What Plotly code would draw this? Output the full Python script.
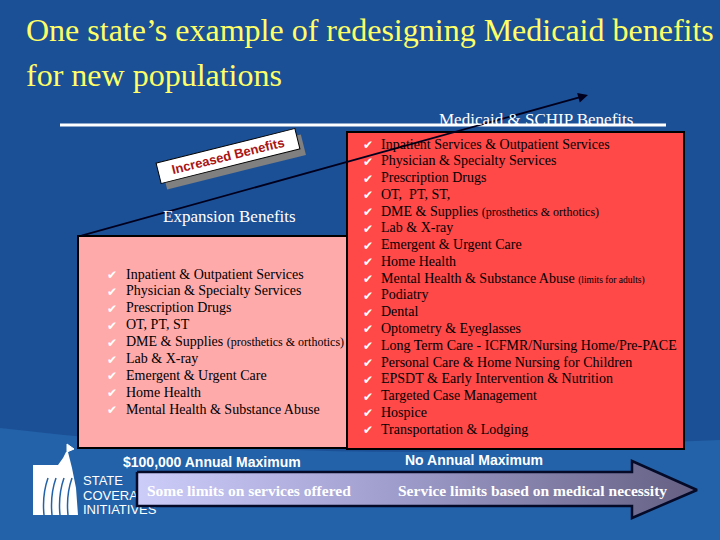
import plotly.graph_objects as go

# ---------------- data ----------------
title_lines = ["One state\u2019s example of redesigning Medicaid benefits", "for new populations"]

expansion_items = ["Inpatient & Outpatient Services", "Physician & Specialty Services",
                   "Prescription Drugs", "OT, PT, ST", "DME & Supplies", "Lab & X-ray",
                   "Emergent & Urgent Care", "Home Health", "Mental Health & Substance Abuse"]
expansion_notes = ["", "", "", "", "(prosthetics & orthotics)", "", "", "", ""]

medicaid_items = ["Inpatient Services & Outpatient Services", "Physician & Specialty Services",
                  "Prescription Drugs", "OT,  PT, ST,", "DME & Supplies", "Lab & X-ray",
                  "Emergent & Urgent Care", "Home Health", "Mental Health & Substance Abuse",
                  "Podiatry", "Dental", "Optometry & Eyeglasses",
                  "Long Term Care - ICFMR/Nursing Home/Pre-PACE",
                  "Personal Care & Home Nursing for Children",
                  "EPSDT & Early Intervention & Nutrition", "Targeted Case Management",
                  "Hospice", "Transportation & Lodging"]
medicaid_notes = ["", "", "", "", "(prosthetics & orthotics)", "", "", "",
                  "(limits for adults)", "", "", "", "", "", "", "", "", ""]

left_header = "Expansion Benefits"
right_header = "Medicaid & SCHIP Benefits"
slope_label = "Increased Benefits"
cap_labels = ["$100,000 Annual Maximum", "No Annual Maximum"]
arrow_labels = ["Some limits on services offered", "Service limits based on medical necessity"]
logo_lines = ["STATE", "COVERAGE", "INITIATIVES"]

# ---------------- styles ----------------
BG = "rgb(28,80,150)"
BG2 = "rgb(35,98,168)"
YELLOW = "rgb(255,255,102)"
PINK = "rgb(255,170,170)"
RED = "rgb(255,72,72)"
SERIF = "Liberation Serif"
SANS = "Liberation Sans"
NOTE_SIZES = {"(prosthetics & orthotics)": 12, "(limits for adults)": 9.5}

fig = go.Figure()

# logo text (drawn before the arrow so the arrow covers part of it)
fig.add_trace(go.Scatter(
    x=[83, 83, 83], y=[482, 497, 511], mode="text", text=logo_lines,
    textposition="middle right", hoverinfo="skip", showlegend=False,
    textfont=dict(family=SANS, size=13, color="white")))

# big gradient arrow
ax_x = [137, 632, 632, 697, 632, 632, 137, 137]
ax_y = [472, 472, 461, 490, 518, 506, 506, 472]
fig.add_trace(go.Scatter(
    x=ax_x, y=ax_y, mode="lines", fill="toself",
    line=dict(color="rgb(5,10,40)", width=2.5),
    fillgradient=dict(type="horizontal",
                      colorscale=[[0, "rgb(205,205,250)"], [0.45, "rgb(160,158,205)"],
                                  [1, "rgb(100,95,130)"]]),
    hoverinfo="skip", showlegend=False))

shapes = []
shapes.append(dict(type="path", layer="below",
                   path="M0,428 Q200,452 420,452 L720,440 L720,540 L0,540 Z",
                   fillcolor=BG2, line=dict(width=0)))
shapes.append(dict(type="line", x0=60, x1=666, y0=125, y1=125,
                   line=dict(color="white", width=3), layer="below"))
shapes.append(dict(type="rect", x0=78, x1=348, y0=236, y1=448,
                   fillcolor=PINK, line=dict(color="black", width=2), layer="below"))
shapes.append(dict(type="rect", x0=347, x1=684, y0=132, y1=449,
                   fillcolor=RED, line=dict(color="black", width=2), layer="below"))
# logo building
shapes.append(dict(type="path",
                   path="M33,465 L58,465 L63,458 L66,452 L68,452 L72,468 L76,488 L78,515 L33,515 Z",
                   fillcolor="white", line=dict(width=0)))
for cx in [44, 52, 60, 68]:
    shapes.append(dict(type="path", path=f"M{cx},515 Q{cx-2},495 {cx+4},478",
                       line=dict(color=BG2, width=1.5)))
shapes.append(dict(type="path", path="M67,452 L67,444 L74,449 Z",
                   fillcolor="white", line=dict(color="white", width=1)))

annotations = []
# title
for i, t in enumerate(title_lines):
    annotations.append(dict(x=24, y=30 + i * 45, text=t, showarrow=False,
                            xanchor="left", yanchor="middle",
                            font=dict(family=SERIF, size=32, color=YELLOW)))

# diagonal arrow
annotations.append(dict(x=588, y=95, ax=80, ay=236, xref="x", yref="y", axref="x", ayref="y",
                        text="", showarrow=True, arrowhead=2, arrowsize=1.1, arrowwidth=1.8,
                        arrowcolor="rgb(0,0,30)"))

# headers
annotations.append(dict(x=229, y=216, text=left_header, showarrow=False,
                        font=dict(family=SERIF, size=17, color="white")))
annotations.append(dict(x=536, y=119, text=right_header, showarrow=False,
                        font=dict(family=SERIF, size=17, color="white")))

# Increased Benefits label with shadow
annotations.append(dict(x=234, y=162, text=slope_label, showarrow=False, textangle=-14,
                        bgcolor="rgb(128,128,128)", font=dict(family=SANS, size=13, color="rgb(128,128,128)"),
                        width=140, height=18))
annotations.append(dict(x=228, y=156, text="<b>" + slope_label + "</b>", showarrow=False, textangle=-14,
                        bgcolor="white", bordercolor="black", borderwidth=1,
                        font=dict(family=SANS, size=13, color="rgb(170,20,20)"),
                        width=140, height=18))


def add_list(items, notes, x_check, x_text, y0, step):
    for i, (it, nt) in enumerate(zip(items, notes)):
        y = y0 + i * step
        annotations.append(dict(x=x_check, y=y + 1, text="\u2714", showarrow=False,
                                font=dict(family="DejaVu Sans", size=12, color="white")))
        txt = it
        if nt:
            txt += f' <span style="font-size:{NOTE_SIZES[nt]}px">{nt}</span>'
        annotations.append(dict(x=x_text, y=y, text=txt, showarrow=False,
                                xanchor="left", yanchor="middle",
                                font=dict(family=SERIF, size=14, color="black")))


add_list(expansion_items, expansion_notes, 112, 124, 274, 16.9)
add_list(medicaid_items, medicaid_notes, 368, 379, 144, 16.77)

# cap labels
annotations.append(dict(x=121, y=462, text="<b>" + cap_labels[0] + "</b>", showarrow=False,
                        xanchor="left", font=dict(family=SANS, size=14, color="white")))
annotations.append(dict(x=403, y=460, text="<b>" + cap_labels[1] + "</b>", showarrow=False,
                        xanchor="left", font=dict(family=SANS, size=14, color="white")))

# arrow labels
annotations.append(dict(x=145, y=490, text="<b>" + arrow_labels[0] + "</b>", showarrow=False,
                        xanchor="left", font=dict(family=SERIF, size=15.5, color="white")))
annotations.append(dict(x=396, y=490, text="<b>" + arrow_labels[1] + "</b>", showarrow=False,
                        xanchor="left", font=dict(family=SERIF, size=15.5, color="white")))

fig.update_layout(
    width=720, height=540, autosize=False,
    margin=dict(l=0, r=0, t=0, b=0),
    paper_bgcolor=BG, plot_bgcolor=BG,
    xaxis=dict(range=[0, 720], visible=False, fixedrange=True),
    yaxis=dict(range=[540, 0], visible=False, fixedrange=True),
    shapes=shapes, annotations=annotations, showlegend=False,
)

fig.write_html("out.html", config={"displayModeBar": False},
               post_script="document.body.style.margin='0';document.body.style.padding='0';")
